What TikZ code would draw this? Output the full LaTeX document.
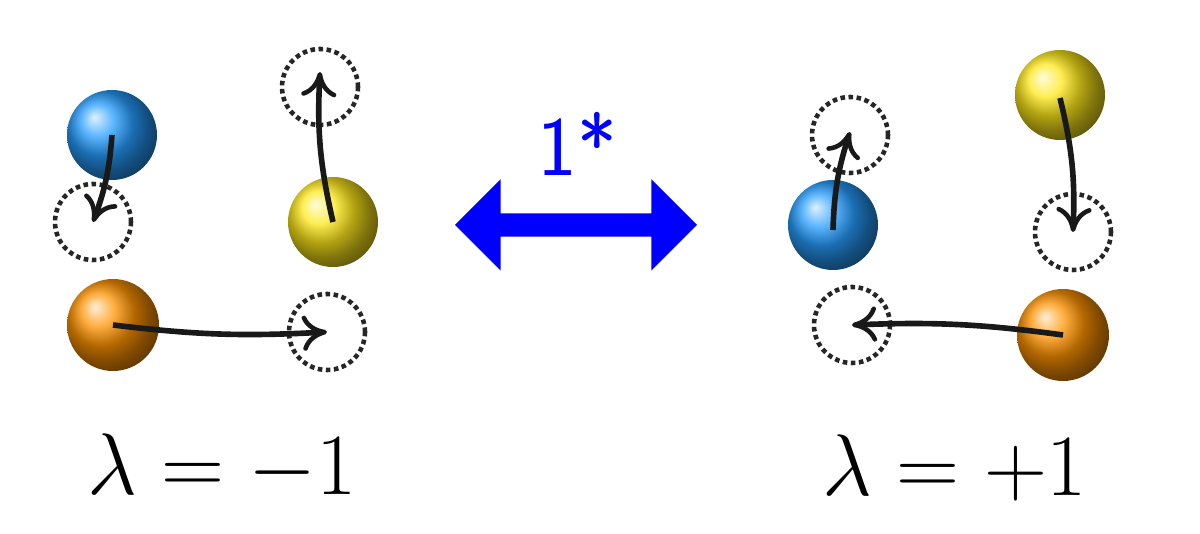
\documentclass[tikz,border=0pt]{standalone}
\usepackage{tikz}
\usetikzlibrary{arrows.meta,shapes.arrows}

\tikzset{
  ball/.style={circle,minimum size=0.9cm,inner sep=0pt,shading=ball},
  ghost/.style={circle,draw=black!85,densely dotted,line width=1.3pt,minimum size=0.76cm,inner sep=0pt},
  move/.style={line width=1.6pt,black!90,-{To[length=7pt,width=10pt,line width=1.3pt]}},
}

\begin{document}
\begin{tikzpicture}
  \useasboundingbox (0,0) rectangle (12,5.34);

  % left configuration, lambda = -1
  \node[ball,ball color=cyan!55!blue!85] (lblue) at (1.12,3.99) {};
  \node[ghost] (lgblue) at (0.93,3.12) {};
  \node[ball,ball color=orange!85!yellow,minimum size=0.92cm] (lorange) at (1.13,2.09) {};
  \node[ghost] (lgorange) at (3.27,2.02) {};
  \node[ball,ball color=yellow!80!orange!90] (lyellow) at (3.33,3.12) {};
  \node[ghost] (lgyellow) at (3.20,4.47) {};

  \draw[move] (lblue.center) to[bend left=8] (lgblue.center);
  \draw[move] (lyellow.center) to[bend left=8] ([yshift=0.15cm]lgyellow.center);
  \draw[move] (lorange.center) to[bend right=5] (lgorange.center);

  % right configuration, lambda = +1
  \node[ghost] (rgblue) at (8.50,3.99) {};
  \node[ball,ball color=cyan!55!blue!85] (rblue) at (8.33,3.09) {};
  \node[ball,ball color=yellow!80!orange!90] (ryellow) at (10.60,4.39) {};
  \node[ghost] (rgyellow) at (10.73,3.02) {};
  \node[ghost] (rgorange) at (8.52,2.09) {};
  \node[ball,ball color=orange!85!yellow,minimum size=0.92cm] (rorange) at (10.63,1.99) {};

  \draw[move] ([yshift=-0.05cm]rblue.center) to[bend left=8] ([yshift=0.03cm]rgblue.center);
  \draw[move] ([yshift=-0.03cm]ryellow.center) to[bend left=8] (rgyellow.center);
  \draw[move] (rorange.center) to[bend right=5] (rgorange.center);

  % exchange arrow
  \node[double arrow,fill=blue,draw=none,minimum width=0.9cm,
        double arrow head extend=0.34cm,minimum height=2.42cm,
        inner xsep=0pt,inner ysep=0.11cm]
        (swap) at (5.76,3.09) {};
  \node[text=blue,font=\sffamily\fontsize{24}{28}\selectfont] (star) at (5.77,3.90) {1*};

  % labels
  \node[font=\fontsize{23}{28}\selectfont] (llabel) at (2.22,0.66) {$\lambda=-1$};
  \node[font=\fontsize{23}{28}\selectfont] (rlabel) at (9.55,0.66) {$\lambda=+1$};
\end{tikzpicture}
\end{document}
